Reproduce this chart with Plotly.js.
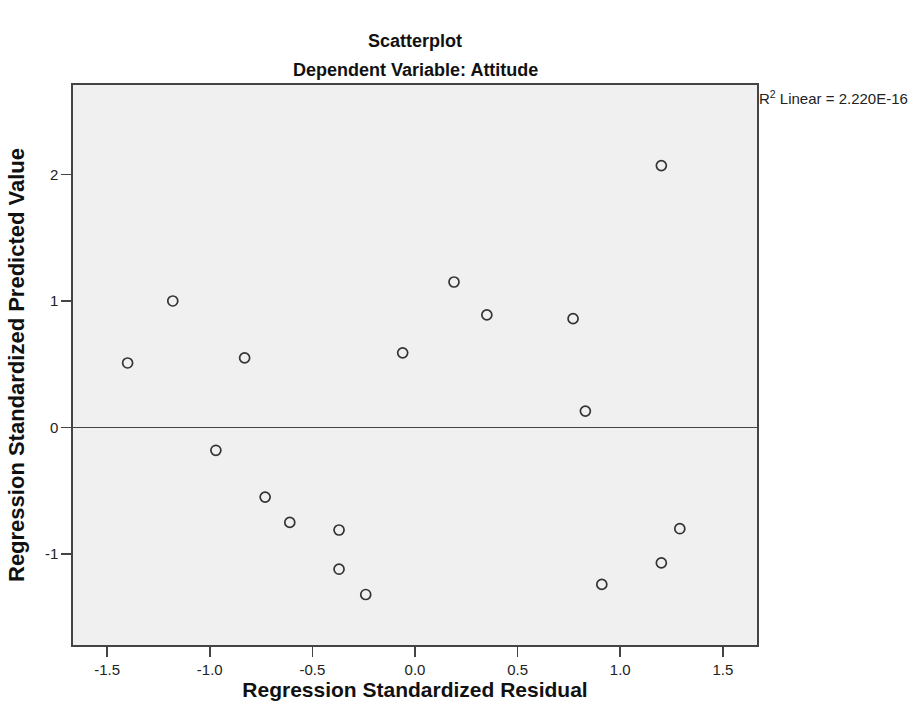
<!DOCTYPE html>
<html>
<head>
<meta charset="utf-8">
<script src="https://cdn.plot.ly/plotly-3.0.1.min.js"></script>
<style>html,body{margin:0;padding:0;background:#fff;}#chart{width:920px;height:714px;}</style>
</head>
<body>
<div id="chart"></div>
<script>
// Regression Standardized Residual (x) vs Regression Standardized Predicted Value (y)
const residual = [-1.40, -1.18, -0.83, -0.06, -0.97, -0.73, -0.61, -0.37, -0.37, -0.24,
                  1.20, 0.19, 0.35, 0.77, 0.83, 1.29, 1.20, 0.91];
const predicted = [0.51, 1.00, 0.55, 0.59, -0.18, -0.55, -0.75, -0.81, -1.12, -1.32,
                   2.07, 1.15, 0.89, 0.86, 0.13, -0.80, -1.07, -1.24];
const xTickVals = [-1.5, -1.0, -0.5, 0.0, 0.5, 1.0, 1.5];
const xTickText = ['-1.5', '-1.0', '-0.5', '0.0', '0.5', '1.0', '1.5'];
const yTickVals = [-1, 0, 1, 2];
const yTickText = ['-1', '0', '1', '2'];
const titleText = 'Scatterplot';
const subtitleText = 'Dependent Variable: Attitude';
const xTitle = 'Regression Standardized Residual';
const yTitle = 'Regression Standardized Predicted Value';
const r2Text = 'R<sup>2</sup> Linear = 2.220E-16';

const FONT = 'Liberation Sans, Arial, sans-serif';

const trace = {
  type: 'scatter',
  mode: 'markers',
  x: residual,
  y: predicted,
  marker: {symbol: 'circle-open', size: 10, color: '#333', line: {width: 1.7, color: '#333'}},
  hoverinfo: 'x+y',
  showlegend: false
};

const layout = {
  width: 920, height: 714,
  paper_bgcolor: '#ffffff',
  plot_bgcolor: '#f0f0f0',
  margin: {l: 73, r: 163, t: 85, b: 69},
  font: {family: FONT, color: '#222', size: 15},
  title: {text: '<b>' + titleText + '</b>', font: {family: FONT, size: 18, color: '#111'},
          xref: 'paper', x: 0.5, xanchor: 'center', yref: 'container', y: 1 - 41/714, yanchor: 'middle'},
  xaxis: {
    range: [-1.666, 1.666], tickvals: xTickVals, ticktext: xTickText,
    ticks: 'outside', ticklen: 10, tickwidth: 1.6, tickcolor: '#444',
    showgrid: false, zeroline: false,
    showline: true, mirror: true, linecolor: '#444', linewidth: 1.6,
    tickfont: {family: FONT, size: 15, color: '#222'},
    title: {text: '<b>' + xTitle + '</b>', font: {family: FONT, size: 21, color: '#111'}, standoff: 2}
  },
  yaxis: {
    range: [-1.719, 2.707], tickvals: yTickVals, ticktext: yTickText,
    ticks: 'outside', ticklen: 10, tickwidth: 1.6, tickcolor: '#444',
    showgrid: false, zeroline: true, zerolinecolor: '#444', zerolinewidth: 1.6,
    showline: true, mirror: true, linecolor: '#444', linewidth: 1.6,
    tickfont: {family: FONT, size: 15, color: '#222'},
    title: {text: '<b>' + yTitle + '</b>', font: {family: FONT, size: 22, color: '#111'}, standoff: 14}
  },
  annotations: [
    {text: '<b>' + subtitleText + '</b>', xref: 'paper', yref: 'paper', x: 0.5, y: 1 + 15/560,
     xanchor: 'center', yanchor: 'middle', showarrow: false, font: {family: FONT, size: 18, color: '#111'}},
    {text: r2Text, xref: 'paper', yref: 'paper', x: 1, y: 1 - 12/560, xanchor: 'left', yanchor: 'middle',
     xshift: 0, showarrow: false, font: {family: FONT, size: 15, color: '#222'}}
  ]
};

Plotly.newPlot('chart', [trace], layout, {displayModeBar: false, staticPlot: true});
</script>
</body>
</html>
